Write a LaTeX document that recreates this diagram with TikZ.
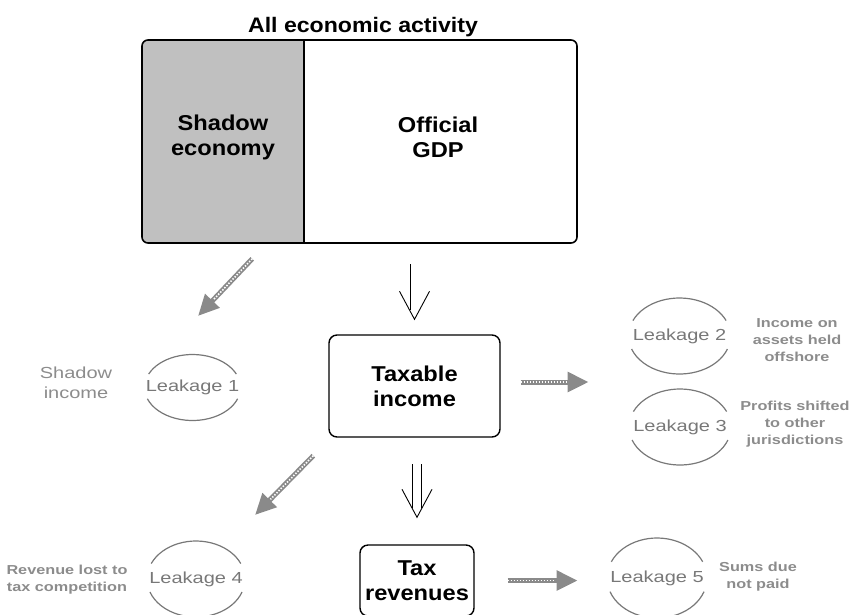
\documentclass[tikz,border=0pt]{standalone}
\usepackage{fontspec}
\setmainfont{Liberation Sans}[FakeStretch=1.25]
\newfontfamily\boxfont{Liberation Sans}[FakeStretch=1.1]
\usetikzlibrary{arrows.meta}
\definecolor{shadowfill}{HTML}{C0C0C0}
\definecolor{leakgrey}{HTML}{787878}
\definecolor{notegrey}{HTML}{8C8C8C}
\definecolor{arrowgrey}{HTML}{8A8A8A}
\tikzset{
  boxtext/.style={align=center, font=\boxfont\fontsize{21.5}{25}\selectfont\bfseries},
  flowbox/.style={boxtext, draw, line width=1.4pt, rounded corners=8pt},
  leaktext/.style={text=leakgrey, font=\fontsize{16}{19}\selectfont},
  note/.style={text=notegrey, align=center, font=\fontsize{13}{17}\selectfont\bfseries},
  leakline/.style={draw=leakgrey, line width=1.2pt},
  leakarrow/.style={draw=arrowgrey, line width=5pt, -{Triangle[length=21pt,width=19pt]},
    postaction={draw=white, line width=1.6pt, dash pattern=on 1.5pt off 1.5pt, shorten >=22pt, -}},
  flowline/.style={double, double distance=8pt, line width=0.9pt},
  flowhead/.style={line width=0.9pt},
}
\begin{document}
\begin{tikzpicture}[x=1pt, y=-1pt]
\useasboundingbox (0,0) rectangle (850,614);
% all economic activity
\node[font=\boxfont\fontsize{21}{24}\selectfont\bfseries] (title) at (363,27) {All economic activity};
\fill[shadowfill, rounded corners=6pt] (142,40) rectangle (304,243);
\fill[shadowfill] (290,40) rectangle (304,243);
\node[draw, line width=1.6pt, rounded corners=6pt, minimum width=435pt, minimum height=203pt] (all) at (359.5,141.5) {};
\draw[line width=1.2pt] (304,40) -- (304,243);
\node[boxtext] (shadow) at (223,137) {Shadow\\economy};
\node[boxtext] (official) at (438,137) {Official\\GDP};
% main flow
\node[flowbox, minimum width=171pt, minimum height=102pt] (taxable) at (414.5,386) {Taxable\\income};
\node[flowbox, minimum width=114pt, minimum height=71pt] (taxrev) at (417,580.5) {Tax\\revenues};
\draw[flowline] ([yshift=70pt]taxable.north) -- ([yshift=24pt]taxable.north);
\draw[flowhead] ([xshift=-15pt,yshift=43pt]taxable.north) -- ([yshift=15pt]taxable.north)
  -- ([xshift=15pt,yshift=43pt]taxable.north);
\draw[flowline] ([yshift=80pt]taxrev.north) -- ([yshift=36pt]taxrev.north);
\draw[flowhead] ([xshift=-15pt,yshift=55pt]taxrev.north) -- ([yshift=27pt]taxrev.north)
  -- ([xshift=15pt,yshift=55pt]taxrev.north);
% leakages
\node[leaktext] (l1) at (192.5,387.5) {Leakage 1};
\node[leaktext] (l2) at (679.5,336) {Leakage 2};
\node[leaktext] (l3) at (680,427) {Leakage 3};
\node[leaktext] (l4) at (196,579) {Leakage 4};
\node[leaktext] (l5) at (657,578) {Leakage 5};
\foreach \n/\rx/\ry in {l1/48/33, l2/51/38, l3/51/38, l4/49/38, l5/50/40} {
  \draw[leakline] (\n.center) ++(xyz polar cs:angle=20, x radius=\rx, y radius=\ry)
    arc[start angle=20, end angle=160, x radius=\rx, y radius=\ry];
  \draw[leakline] (\n.center) ++(xyz polar cs:angle=204, x radius=\rx, y radius=\ry)
    arc[start angle=204, end angle=336, x radius=\rx, y radius=\ry];
}
\node[text=notegrey, align=center, font=\fontsize{16}{20}\selectfont] (shadowinc) at (76,383) {Shadow\\income};
\node[note] (n2) at (797,340) {Income on\\assets held\\offshore};
\node[note] (n3) at (795,424) {Profits shifted\\to other\\jurisdictions};
\node[note] (n4) at (67,580) {Revenue lost to\\tax competition};
\node[note] (n5) at (758,577) {Sums due\\not paid};
% leak arrows
\draw[leakarrow] ([xshift=111pt,yshift=-15pt]all.south west) -- ([xshift=5.5pt,yshift=71.5pt]l1.center);
\draw[leakarrow] ([xshift=-15pt,yshift=-18pt]taxable.south west) -- ([xshift=59pt,yshift=64pt]l4.center);
\draw[leakarrow] ([xshift=20pt,yshift=4pt]taxable.east) -- ([xshift=88pt,yshift=4pt]taxable.east);
\draw[leakarrow] ([xshift=33pt]taxrev.east) -- ([xshift=103pt]taxrev.east);
\end{tikzpicture}
\end{document}
